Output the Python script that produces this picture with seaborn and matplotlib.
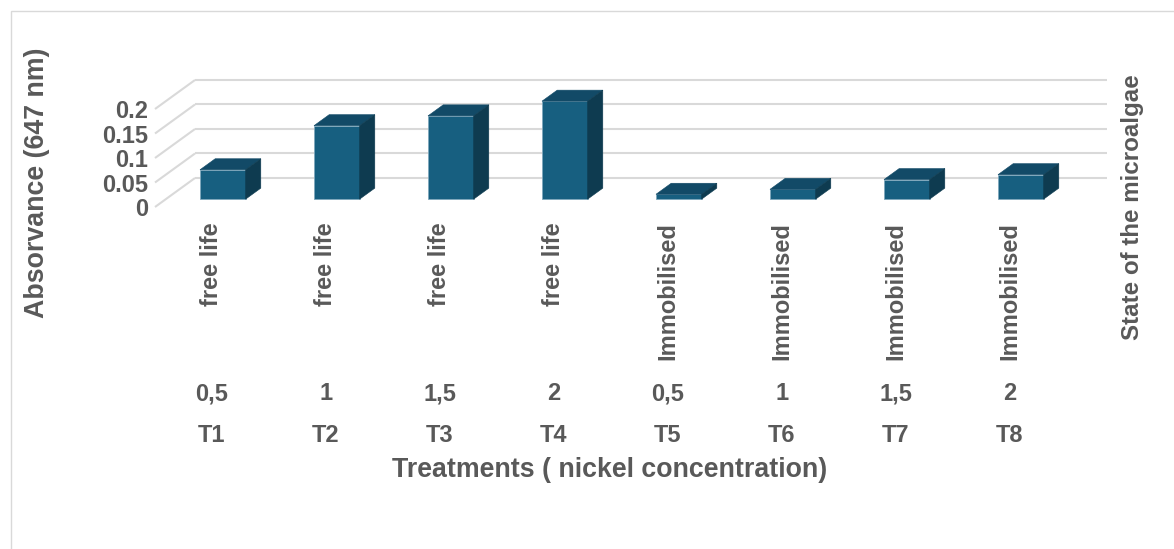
import numpy as np
import pandas as pd
import matplotlib
matplotlib.use("Agg")
import matplotlib.pyplot as plt
import matplotlib.transforms as mtransforms
from matplotlib.patches import Polygon, Rectangle
import seaborn as sns

# ---- data ----
treatments = ["T1", "T2", "T3", "T4", "T5", "T6", "T7", "T8"]
concentrations = ["0,5", "1", "1,5", "2", "0,5", "1", "1,5", "2"]
states = ["free life"] * 4 + ["Immobilised"] * 4
absorbance = [0.06, 0.15, 0.17, 0.20, 0.01, 0.02, 0.04, 0.05]
y_ticks = [0, 0.05, 0.1, 0.15, 0.2]
y_tick_labels = ["0", "0.05", "0.1", "0.15", "0.2"]

# ---- style ----
sns.set_style("white")
plt.rcParams["font.family"] = ["Liberation Sans", "DejaVu Sans"]
plt.rcParams["font.weight"] = "bold"

TEXT = "#595959"
GRID = "#D9D9D9"
FRONT = "#175F80"
TOP = "#124A67"
SIDE = "#0E3B50"
EDGE = "#7FA7BC"

W, H = 1174, 549
fig = plt.figure(figsize=(W / 100, H / 100), dpi=100)
fig.patch.set_facecolor("white")

# oblique projection of the depth axis (in data units)
DX = 40 / 114          # horizontal shift for the full depth, in categories
DY = 0.0592            # vertical shift for the full depth, in absorbance units
D0 = 0.27              # depth where the bars' front faces sit
BD = 0.38              # depth of each bar
FACE_W = 0.40          # front-face width, in categories
YMAX = 0.2

ax = fig.add_axes([155 / W, 1 - 207 / H, (1107 - 155) / W, (207 - 80) / H])

# walls: back gridlines and the diagonal lines on the left wall
n = len(treatments)
for t in y_ticks:
    ax.plot([-0.5, -0.5 + DX], [t, t + DY], color=GRID, lw=1.5, zorder=1,
            solid_capstyle="butt", clip_on=False)
    ax.plot([-0.5 + DX, n - 0.5 + DX], [t + DY, t + DY], color=GRID, lw=1.5,
            zorder=1, solid_capstyle="butt", clip_on=False)

df = pd.DataFrame({"treatment": treatments, "absorbance": absorbance})
sns.barplot(data=df, x="treatment", y="absorbance", order=treatments,
            color=FRONT, saturation=1, width=FACE_W, errorbar=None,
            edgecolor=EDGE, linewidth=0.6, zorder=3, ax=ax)

# push the front faces back into the box and add top / side faces
for patch in list(ax.patches):
    x0 = patch.get_x() + D0 * DX
    y0 = D0 * DY
    w = patch.get_width()
    h = patch.get_height()
    patch.set_x(x0)
    patch.set_y(y0)
    patch.set_clip_on(False)
    ddx, ddy = BD * DX, BD * DY
    top = Polygon([(x0, y0 + h), (x0 + w, y0 + h), (x0 + w + ddx, y0 + h + ddy),
                   (x0 + ddx, y0 + h + ddy)], closed=True, facecolor=TOP,
                  edgecolor=TOP, lw=0.4, zorder=3, clip_on=False)
    side = Polygon([(x0 + w, y0), (x0 + w + ddx, y0 + ddy),
                    (x0 + w + ddx, y0 + h + ddy), (x0 + w, y0 + h)], closed=True,
                   facecolor=SIDE, edgecolor=SIDE, lw=0.4, zorder=3, clip_on=False)
    ax.add_patch(top)
    ax.add_patch(side)

ax.set_xlim(-0.5, n - 0.5 + DX)
ax.set_ylim(0, YMAX + DY)
ax.set_xlabel("")
ax.set_ylabel("")
ax.set_xticks([])
ax.set_yticks(y_ticks)
ax.set_yticklabels(y_tick_labels, fontsize=17, color=TEXT, fontweight="bold")
ax.tick_params(axis="y", length=0, pad=5)
for s in ax.spines.values():
    s.set_visible(False)
ax.patch.set_alpha(0)

# category label rows under the chart
blend = mtransforms.blended_transform_factory(ax.transData, fig.transFigure)
for i in range(n):
    ax.text(i, 1 - 222 / H, states[i], rotation=90, ha="center", va="top",
            fontsize=17, color=TEXT, fontweight="bold", transform=blend)
    ax.text(i, 1 - 394 / H, concentrations[i], ha="center", va="center",
            fontsize=17, color=TEXT, fontweight="bold", transform=blend)
    ax.text(i, 1 - 435 / H, treatments[i], ha="center", va="center",
            fontsize=17, color=TEXT, fontweight="bold", transform=blend)

fig.text(610 / W, 1 - 470 / H, "Treatments ( nickel concentration)", ha="center",
         va="center", fontsize=19.3, color=TEXT, fontweight="bold")
fig.text(37 / W, 1 - 183 / H, "Absorvance (647 nm)", rotation=90, ha="center",
         va="center", fontsize=19.3, color=TEXT, fontweight="bold")
fig.text(1133 / W, 1 - 207 / H, "State of the microalgae", rotation=90,
         ha="center", va="center", fontsize=17.4, color=TEXT, fontweight="bold")

# chart-area frame
fig.patches.append(Rectangle((11 / W, -0.2), 1.5, 1.2 - 11 / H,
                             transform=fig.transFigure, fill=False,
                             edgecolor=GRID, lw=1.0))

fig.savefig("out.png", dpi=100, facecolor="white")
